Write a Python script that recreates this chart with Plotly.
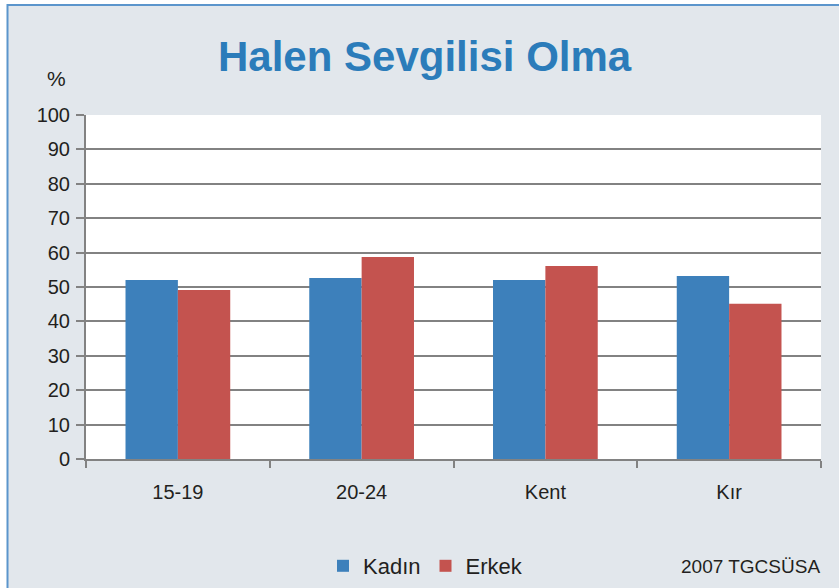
import plotly.graph_objects as go

# Survey data: share currently having a partner, by group (%)
categories = ["15-19", "20-24", "Kent", "Kır"]
kadin = [52.0, 52.6, 52.0, 53.2]
erkek = [49.1, 58.7, 56.1, 45.1]
y_ticks = [0, 10, 20, 30, 40, 50, 60, 70, 80, 90, 100]

W, H = 839, 588
L, R, T, B = 86, 18, 115, 129
pw, ph = W - L - R, H - T - B

def px_x(x):
    return (x - L) / pw

def px_y(y):
    return (H - B - y) / ph

font = "Liberation Sans, Arial, sans-serif"
text_color = "#231F20"
grid_color = "#828282"
frame_color = "#5B95CC"

fig = go.Figure()
fig.add_trace(go.Bar(name="Kadın", x=categories, y=kadin, marker_color="#3D80BB",
                     marker_line_width=0))
fig.add_trace(go.Bar(name="Erkek", x=categories, y=erkek, marker_color="#C4534F",
                     marker_line_width=0))

fig.update_layout(
    width=W, height=H,
    margin=dict(l=L, r=R, t=T, b=B, pad=0, autoexpand=False),
    paper_bgcolor="#E2E7EC",
    plot_bgcolor="white",
    barmode="group",
    bargap=0.43,
    bargroupgap=0,
    font=dict(family=font, color=text_color, size=20),
    showlegend=True,
    legend=dict(orientation="h", xref="container", yref="container",
                x=323 / W, y=(H - 566) / H, xanchor="left", yanchor="middle",
                font=dict(size=22, color=text_color), bgcolor="rgba(0,0,0,0)",
                itemwidth=30, traceorder="normal"),
    xaxis=dict(showgrid=False, showline=True, linecolor=grid_color, linewidth=2,
               ticks="outside", tickson="boundaries", ticklen=7, tickwidth=2,
               tickcolor=grid_color, tickfont=dict(size=20, color=text_color),
               ticklabelstandoff=14, automargin=False),
    yaxis=dict(range=[0, 100], tickvals=y_ticks, showgrid=True, gridcolor=grid_color,
               gridwidth=1.7, showline=True, linecolor=grid_color, linewidth=2,
               ticks="outside", ticklen=8, tickwidth=2, tickcolor=grid_color,
               tickfont=dict(size=20, color=text_color), zeroline=False,
               ticklabelstandoff=2, automargin=False),
    shapes=[
        # white surround outside the framed panel
        dict(type="rect", xref="paper", yref="paper", layer="above",
             x0=px_x(-10), x1=px_x(W + 10), y0=px_y(5), y1=px_y(-10),
             fillcolor="white", line=dict(width=0)),
        dict(type="rect", xref="paper", yref="paper", layer="above",
             x0=px_x(-10), x1=px_x(7), y0=px_y(H + 10), y1=px_y(-10),
             fillcolor="white", line=dict(width=0)),
        # panel frame
        dict(type="line", xref="paper", yref="paper", layer="above",
             x0=px_x(7.5), x1=px_x(W + 10), y0=px_y(5), y1=px_y(5),
             line=dict(color=frame_color, width=2)),
        dict(type="line", xref="paper", yref="paper", layer="above",
             x0=px_x(7.5), x1=px_x(7.5), y0=px_y(4), y1=px_y(H + 10),
             line=dict(color=frame_color, width=2)),
    ],
    annotations=[
        dict(text="<b>Halen Sevgilisi Olma</b>", xref="paper", yref="paper",
             x=px_x(425), y=px_y(57), xanchor="center", yanchor="middle",
             showarrow=False, font=dict(size=42, color="#2B7CBA", family=font)),
        dict(text="%", xref="paper", yref="paper", x=px_x(56), y=px_y(78),
             xanchor="center", yanchor="middle", showarrow=False,
             font=dict(size=21, color=text_color)),
        dict(text="2007 TGCSÜSA", xref="paper", yref="paper", x=px_x(822), y=px_y(566),
             xanchor="right", yanchor="middle", showarrow=False,
             font=dict(size=19, color=text_color)),
    ],
)

fig.write_html("out.html")
